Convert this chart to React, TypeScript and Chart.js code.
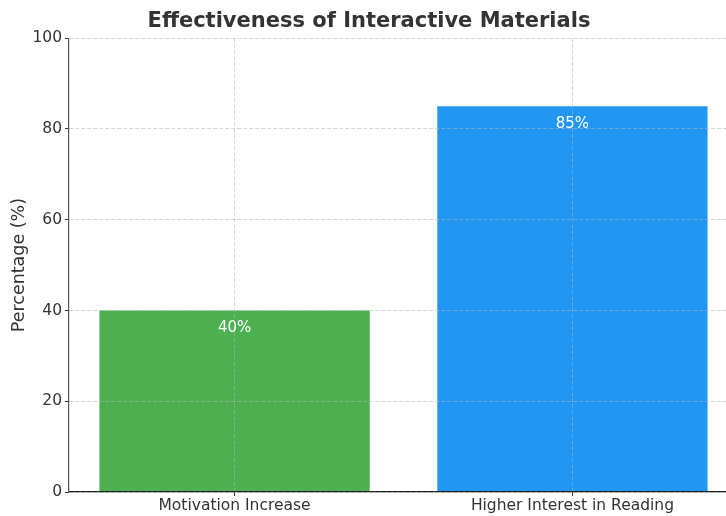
import React, { useEffect, useRef } from "react";
import { Chart, registerables } from "chart.js";

Chart.register(...registerables);

// Survey results
const CATEGORIES = ["Motivation Increase", "Higher Interest in Reading"];
const PERCENTAGES = [40, 85];
const BAR_COLORS = ["#4CAF50", "#2196F3"];
const Y_MIN = 0;
const Y_MAX = 100;
const Y_STEP = 20;

const FONT = "'DejaVu Sans', sans-serif";
const TEXT = "#333333";
const GRID = "rgba(180,180,180,0.7)";

// Writes each bar's percentage in white just under its top edge
const valueLabels = {
  id: "valueLabels",
  afterDraw(chart: any) {
    const ctx = chart.ctx;
    const meta = chart.getDatasetMeta(0);
    ctx.save();
    ctx.font = `15px ${FONT}`;
    ctx.fillStyle = "#ffffff";
    ctx.textAlign = "center";
    ctx.textBaseline = "middle";
    meta.data.forEach((bar: any, i: number) => {
      ctx.fillText(`${PERCENTAGES[i]}%`, bar.x, bar.y + 18);
    });
    ctx.restore();
  },
};

export default function App() {
  const canvasRef = useRef<HTMLCanvasElement | null>(null);

  useEffect(() => {
    const canvas = canvasRef.current;
    if (!canvas) return;
    const chart = new Chart(canvas, {
      type: "bar",
      data: {
        datasets: [
          {
            data: PERCENTAGES.map((v, i) => ({ x: i, y: v })),
            backgroundColor: BAR_COLORS,
            borderWidth: 0,
            categoryPercentage: 0.8,
            barPercentage: 1,
          },
        ],
      },
      options: {
        responsive: false,
        animation: false,
        devicePixelRatio: 1,
        layout: { padding: { left: 0, right: 2, top: 0, bottom: 0 } },
        plugins: {
          legend: { display: false },
          tooltip: { enabled: false },
          title: {
            display: true,
            text: "Effectiveness of Interactive Materials",
            color: TEXT,
            font: { family: FONT, size: 21, weight: "bold", lineHeight: 1.2 },
            padding: { top: 9, bottom: 4 },
          },
        },
        scales: {
          x: {
            type: "linear",
            offset: false,
            min: -0.49,
            max: 1.49,
            afterBuildTicks: (scale: any) => {
              scale.ticks = CATEGORIES.map((_, i) => ({ value: i }));
            },
            afterFit: (scale: any) => {
              scale.height = 24;
            },
            ticks: {
              callback: (_v: any, i: number) => CATEGORIES[i],
              font: { family: FONT, size: 15.5 },
              color: TEXT,
              padding: 1,
              autoSkip: false,
              maxRotation: 0,
              z: 2,
            },
            grid: {
              offset: false,
              color: GRID,
              lineWidth: 0.8,
              z: 1,
              tickColor: TEXT,
              tickLength: 4,
              tickWidth: 1,
              tickBorderDash: [],
            },
            border: { display: true, color: "#222222", width: 1.2, dash: [4, 2], z: 2 },
          },
          y: {
            min: Y_MIN,
            max: Y_MAX,
            afterFit: (scale: any) => {
              scale.width = 69;
            },
            ticks: {
              stepSize: Y_STEP,
              font: { family: FONT, size: 15.5 },
              color: TEXT,
              padding: 3,
              z: 2,
            },
            grid: {
              color: GRID,
              lineWidth: 0.8,
              z: 1,
              tickColor: TEXT,
              tickLength: 4,
              tickWidth: 1,
              tickBorderDash: [],
            },
            border: { display: true, color: "#555555", width: 1.2, dash: [4, 2], z: 2 },
            title: {
              display: true,
              text: "Percentage (%)",
              color: TEXT,
              font: { family: FONT, size: 17.5 },
              padding: { top: 9, bottom: 0 },
            },
          },
        },
      } as any,
      plugins: [valueLabels],
    });
    return () => chart.destroy();
  }, []);

  return (
    <div
      style={{
        position: "fixed",
        left: 0,
        top: 0,
        width: 726,
        height: 516,
        overflow: "hidden",
        background: "#ffffff",
      }}
    >
      <canvas
        ref={canvasRef}
        width={740}
        height={516}
        style={{ width: "740px", height: "516px", display: "block" }}
      />
    </div>
  );
}
